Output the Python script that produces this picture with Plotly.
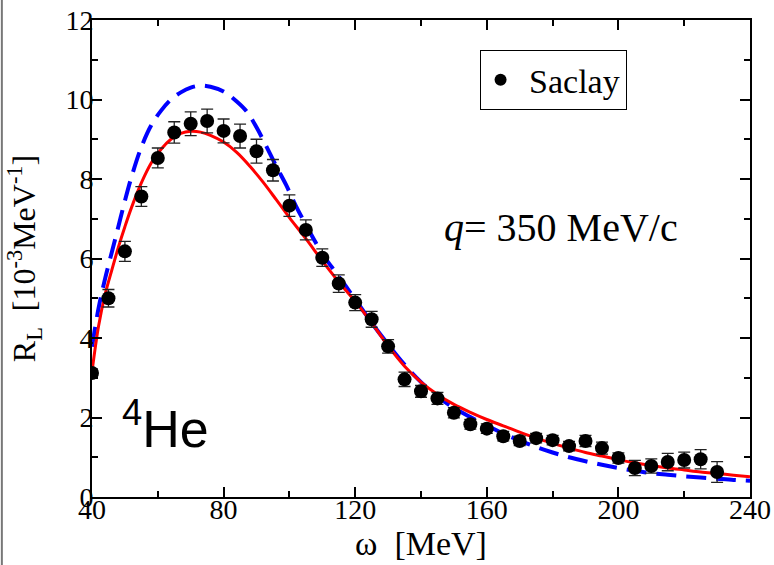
import plotly.graph_objects as go

# Saclay data
omega_data = [40, 45, 50, 55, 60, 65, 70, 75, 80, 85, 90, 95, 100, 105, 110, 115, 120, 125,
              130, 135, 140, 145, 150, 155, 160, 165, 170, 175, 180, 185, 190, 195, 200,
              205, 210, 215, 220, 225, 230]
rl_data = [3.12, 5.00, 6.18, 7.56, 8.53, 9.17, 9.39, 9.46, 9.21, 9.08, 8.70, 8.22, 7.33,
           6.72, 6.02, 5.37, 4.89, 4.47, 3.79, 2.96, 2.66, 2.48, 2.12, 1.83, 1.72, 1.53,
           1.41, 1.48, 1.43, 1.28, 1.41, 1.23, 0.98, 0.73, 0.78, 0.88, 0.93, 0.95, 0.63]
rl_err = [0.10, 0.22, 0.25, 0.25, 0.25, 0.27, 0.30, 0.30, 0.30, 0.30, 0.30, 0.27, 0.27,
          0.25, 0.22, 0.22, 0.20, 0.20, 0.17, 0.18, 0.15, 0.15, 0.13, 0.12, 0.12, 0.12,
          0.12, 0.12, 0.12, 0.12, 0.14, 0.15, 0.13, 0.19, 0.18, 0.22, 0.20, 0.24, 0.26]

# Red solid curve
omega_red = [40, 42, 44, 46, 48, 50, 52, 55, 58, 61, 64, 67, 70, 73, 76, 80, 84, 88, 92, 96,
             100, 105, 110, 115, 120, 125, 130, 135, 140, 145, 150, 155, 160, 165, 170, 175,
             180, 185, 190, 195, 200, 205, 210, 215, 220, 225, 230, 235, 240]
rl_red = [3.15, 4.30, 5.10, 5.70, 6.28, 6.80, 7.28, 7.90, 8.40, 8.75, 9.00, 9.15, 9.20, 9.18,
          9.10, 8.93, 8.67, 8.32, 7.92, 7.48, 7.03, 6.50, 5.94, 5.41, 4.92, 4.38, 3.80, 3.29,
          2.89, 2.58, 2.33, 2.13, 1.95, 1.79, 1.63, 1.48, 1.35, 1.23, 1.12, 1.03, 0.94, 0.86,
          0.79, 0.73, 0.68, 0.63, 0.59, 0.55, 0.51]

# Blue dashed curve
omega_blue = [40, 42, 44, 46, 48, 50, 52, 55, 58, 61, 64, 67, 70, 73, 76, 80, 84, 87, 90, 93,
              96, 99, 102, 105, 108, 111, 114, 117, 120, 123, 126, 130, 135, 140, 145, 150,
              155, 160, 165, 170, 175, 180, 185, 190, 195, 200, 205, 210, 215, 220, 225, 230,
              235, 240]
rl_blue = [3.78, 4.75, 5.50, 6.15, 6.80, 7.45, 8.05, 8.80, 9.35, 9.72, 10.00, 10.18, 10.30,
           10.35, 10.32, 10.20, 9.95, 9.70, 9.30, 8.82, 8.32, 7.85, 7.32, 6.85, 6.40, 6.00,
           5.66, 5.32, 4.97, 4.62, 4.27, 3.84, 3.33, 2.89, 2.53, 2.24, 2.01, 1.80, 1.60, 1.42,
           1.26, 1.12, 1.00, 0.90, 0.81, 0.73, 0.66, 0.60, 0.56, 0.52, 0.49, 0.46, 0.43, 0.41]

x_ticks = [40, 80, 120, 160, 200, 240]
y_ticks = [0, 2, 4, 6, 8, 10, 12]

SERIF = "Liberation Serif"

fig = go.Figure()
fig.add_trace(go.Scatter(x=omega_blue, y=rl_blue, mode="lines", line_shape="spline",
                         line=dict(color="#0000ff", width=4, dash="20px,10px"),
                         showlegend=False, hoverinfo="skip"))
fig.add_trace(go.Scatter(x=omega_red, y=rl_red, mode="lines", line_shape="spline",
                         line=dict(color="#ff0000", width=3),
                         showlegend=False, hoverinfo="skip"))
fig.add_trace(go.Scatter(x=omega_data, y=rl_data, mode="markers", name="\u00a0Saclay",
                         marker=dict(color="black", size=14, symbol="circle"),
                         error_y=dict(type="data", array=rl_err, visible=True,
                                      color="#222222", thickness=1.3, width=6)))

axis_common = dict(showline=True, linecolor="black", linewidth=2, mirror="ticks",
                   ticks="inside", ticklen=10, tickwidth=1.5, tickcolor="black",
                   showgrid=False, zeroline=False, automargin=False,
                   tickfont=dict(family=SERIF, size=28, color="black"))

fig.update_xaxes(range=[40, 240], tickvals=x_ticks, ticktext=[str(v) for v in x_ticks],
                 ticklabelstandoff=-14,
                 minor=dict(dtick=20, ticks="inside", ticklen=6, tickcolor="black", tickwidth=1.5),
                 title=dict(text="\u00a0\u00a0\u00a0\u00a0ω  [MeV]",
                            font=dict(family=SERIF, size=34, color="black"), standoff=0),
                 **axis_common)
fig.update_yaxes(range=[0, 12], tickvals=y_ticks, ticktext=[str(v) for v in y_ticks],
                 ticklabelstandoff=-9,
                 minor=dict(dtick=1, ticks="inside", ticklen=6, tickcolor="black", tickwidth=1.5),
                 title=dict(text="R<sub>L</sub>  [10<sup>-3</sup>MeV<sup>-1</sup>]",
                            font=dict(family=SERIF, size=32, color="black"), standoff=20),
                 **axis_common)

fig.add_annotation(x=0.713, y=0.564, xref="paper", yref="paper", xanchor="center",
                   yanchor="middle", text="<i>q</i>= 350 MeV/c", showarrow=False,
                   font=dict(family=SERIF, size=40, color="black"))
fig.add_annotation(x=0.112, y=0.15, xref="paper", yref="paper", xanchor="center",
                   yanchor="middle", text="<sup>4</sup>He", showarrow=False,
                   font=dict(family="Liberation Sans", size=52, color="black"))

# left page border line
fig.add_shape(type="line", xref="paper", yref="paper", x0=-0.137, x1=-0.137, y0=-0.2, y1=1.1,
              line=dict(color="#777777", width=2))

fig.update_layout(
    width=774, height=565,
    margin=dict(l=92, r=24, t=20, b=68),
    paper_bgcolor="white", plot_bgcolor="white",
    legend=dict(x=0.589, y=0.937, xanchor="left", yanchor="top",
                bordercolor="black", borderwidth=1, bgcolor="white",
                font=dict(family=SERIF, size=34, color="black"),
                itemsizing="constant"),
)

fig.write_html("out.html")
